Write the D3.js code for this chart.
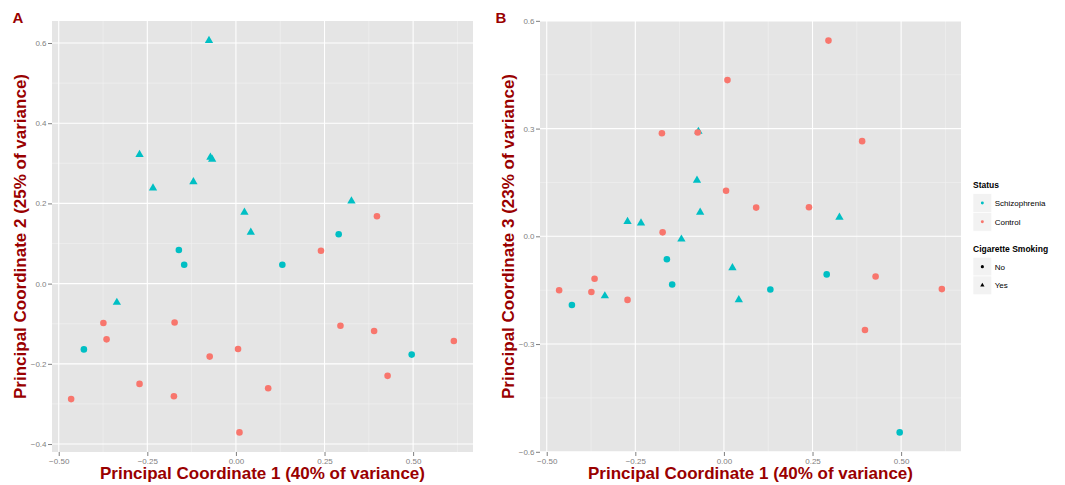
<!DOCTYPE html>
<html>
<head>
<meta charset="utf-8">
<script src="https://cdn.jsdelivr.net/npm/d3@7"></script>
<style>
  body { margin: 0; background: #fff; }
  svg { display: block; font-family: "Liberation Sans", Arial, Helvetica, sans-serif; }
</style>
</head>
<body>
<svg id="chart" width="1065" height="485"></svg>
<script>

// one entry per sample, same order in every array
const status = [
  "Schizophrenia", "Schizophrenia", "Schizophrenia", "Schizophrenia", "Schizophrenia",
  "Schizophrenia", "Schizophrenia", "Schizophrenia", "Schizophrenia", "Schizophrenia",
  "Schizophrenia", "Schizophrenia", "Schizophrenia", "Schizophrenia", "Schizophrenia",
  "Schizophrenia",
  "Control", "Control", "Control", "Control", "Control", "Control", "Control", "Control",
  "Control", "Control", "Control", "Control", "Control", "Control", "Control", "Control"
]
const smoking = [
  "Yes", "Yes", "Yes", "Yes", "Yes", "Yes", "Yes", "Yes", "Yes", "Yes",
  "No", "No", "No", "No", "No", "No",
  "No", "No", "No", "No", "No", "No", "No", "No",
  "No", "No", "No", "No", "No", "No", "No", "No"
]
const pc1 = [
  -0.076, -0.272, -0.234, -0.120, -0.072, -0.067, 0.024, 0.042, 0.326, -0.336,
  -0.161, -0.146, 0.131, 0.290, -0.429, 0.496,
  0.398, 0.240, -0.374, -0.365, -0.173, 0.006, -0.074, -0.272,
  -0.175, -0.465, 0.091, 0.010, 0.295, 0.390, 0.428, 0.615
]
const pc2 = [
  0.606, 0.322, 0.238, 0.254, 0.315, 0.310, 0.178, 0.128, 0.206, -0.047,
  0.084, 0.047, 0.047, 0.123, -0.164, -0.177,
  0.168, 0.082, -0.098, -0.139, -0.097, -0.163, -0.182, -0.250,
  -0.281, -0.288, -0.261, -0.371, -0.105, -0.118, -0.230, -0.143
]
const pc3 = [
  0.156, 0.041, 0.037, -0.008, 0.292, 0.067, -0.088, -0.177, 0.053, -0.166,
  -0.064, -0.134, -0.148, -0.106, -0.191, -0.546,
  -0.261, 0.081, -0.155, -0.118, 0.011, 0.127, 0.289, -0.177,
  0.287, -0.150, 0.080, 0.435, 0.545, 0.265, -0.112, -0.147
]

const statusLevels = ["Schizophrenia", "Control"]
const smokingLevels = ["No", "Yes"]

const xTicks = [-0.5, -0.25, 0, 0.25, 0.5]
const yTicksA = [-0.4, -0.2, 0, 0.2, 0.4, 0.6]
const yTicksB = [-0.6, -0.3, 0, 0.3, 0.6]

const xTitle = "Principal Coordinate 1 (40% of variance)"
const yTitleA = "Principal Coordinate 2 (25% of variance)"
const yTitleB = "Principal Coordinate 3 (23% of variance)"

const titleRed = "#990000"
const colour = d3.scaleOrdinal().domain(statusLevels).range(["#00BFC4", "#F8766D"])

// ggplot style: data range padded 5% each side
const expand = (v) => {
  const [a, b] = d3.extent(v)
  const p = (b - a) * 0.05
  return [a - p, b + p]
}

const minorTicks = (ticks, domain) => {
  const step = ticks[1] - ticks[0]
  const out = []
  for (let t = ticks[0] - step / 2; t <= domain[1]; t += step) {
    if (t >= domain[0]) out.push(t)
  }
  return out
}

const symbolPath = (shape, size) =>
  d3.symbol().type(shape === "Yes" ? d3.symbolTriangle : d3.symbolCircle).size(size)()

const scatterPanel = function () {

  let left, top, width, height
  let xs, ys, yTicks, yFmt, yTitle, tag, tagX, yTitleX

  const my = (selection) => {

    const xScale = d3.scaleLinear().domain(expand(xs)).range([left, left + width])
    const yScale = d3.scaleLinear().domain(expand(ys)).range([top + height, top])

    selection.append("rect")
      .attr("x", left).attr("y", top)
      .attr("width", width).attr("height", height)
      .attr("fill", "#E5E5E5")

    const grid = selection.append("g").attr("class", "grid")

    grid.selectAll(".xminor")
      .data(minorTicks(xTicks, xScale.domain()))
      .join("line")
      .attr("x1", d => xScale(d)).attr("x2", d => xScale(d))
      .attr("y1", top).attr("y2", top + height)
      .attr("stroke", "#F2F2F2").attr("stroke-width", 0.6)

    grid.selectAll(".yminor")
      .data(minorTicks(yTicks, yScale.domain()))
      .join("line")
      .attr("y1", d => yScale(d)).attr("y2", d => yScale(d))
      .attr("x1", left).attr("x2", left + width)
      .attr("stroke", "#F2F2F2").attr("stroke-width", 0.6)

    grid.append("g").selectAll("line")
      .data(xTicks)
      .join("line")
      .attr("x1", d => xScale(d)).attr("x2", d => xScale(d))
      .attr("y1", top).attr("y2", top + height)
      .attr("stroke", "#fff").attr("stroke-width", 1.1)

    grid.append("g").selectAll("line")
      .data(yTicks)
      .join("line")
      .attr("y1", d => yScale(d)).attr("y2", d => yScale(d))
      .attr("x1", left).attr("x2", left + width)
      .attr("stroke", "#fff").attr("stroke-width", 1.1)

    const points = pc1.map((d, i) => ({
      x: xScale(xs[i]),
      y: yScale(ys[i]),
      status: status[i],
      smoking: smoking[i]
    }))

    selection.append("g").selectAll("path")
      .data(points)
      .join("path")
      .attr("transform", d => `translate(${d.x},${d.y})`)
      .attr("d", d => symbolPath(d.smoking, d.smoking === "Yes" ? 30 : 34))
      .attr("fill", d => colour(d.status))

    selection.append("g")
      .attr("class", "x-axis")
      .attr("transform", `translate(0, ${top + height})`)
      .call(d3.axisBottom(xScale).tickValues(xTicks).tickFormat(d3.format(".2f")).tickSize(4).tickPadding(2))

    selection.append("g")
      .attr("class", "y-axis")
      .attr("transform", `translate(${left}, 0)`)
      .call(d3.axisLeft(yScale).tickValues(yTicks).tickFormat(yFmt).tickSize(4).tickPadding(1.5))

    selection.selectAll(".x-axis, .y-axis")
      .call(g => g.select(".domain").remove())
      .call(g => g.selectAll(".tick line").attr("stroke", "#7F7F7F"))
      .call(g => g.selectAll(".tick text")
        .attr("fill", "#7F7F7F")
        .style("font-size", "8px")
        .style("font-family", '"Liberation Sans", Arial, sans-serif'))

    selection.append("text")
      .attr("x", left + width / 2)
      .attr("y", 479)
      .attr("text-anchor", "middle")
      .attr("fill", titleRed)
      .style("font-size", "17px")
      .style("font-weight", "bold")
      .text(xTitle)

    selection.append("text")
      .attr("transform", `translate(${yTitleX}, ${top + height / 2}) rotate(-90)`)
      .attr("text-anchor", "middle")
      .attr("fill", titleRed)
      .style("font-size", "17px")
      .style("font-weight", "bold")
      .text(yTitle)

    selection.append("text")
      .attr("x", tagX)
      .attr("y", 22.5)
      .attr("fill", titleRed)
      .style("font-size", "15px")
      .style("font-weight", "bold")
      .text(tag)
  }

  my.box = function (l, t, w, h) { left = l; top = t; width = w; height = h; return my }
  my.xs = function (_) { return arguments.length ? (xs = _, my) : xs }
  my.ys = function (_) { return arguments.length ? (ys = _, my) : ys }
  my.yTicks = function (_) { return arguments.length ? (yTicks = _, my) : yTicks }
  my.yFmt = function (_) { return arguments.length ? (yFmt = _, my) : yFmt }
  my.yTitle = function (_) { return arguments.length ? (yTitle = _, my) : yTitle }
  my.yTitleX = function (_) { return arguments.length ? (yTitleX = _, my) : yTitleX }
  my.tag = function (_) { return arguments.length ? (tag = _, my) : tag }
  my.tagX = function (_) { return arguments.length ? (tagX = _, my) : tagX }

  return my
}

const svg = d3.select("#chart")

svg.append("g").call(
  scatterPanel().box(52, 21, 421, 431).xs(pc1).ys(pc2)
    .yTicks(yTicksA).yFmt(d3.format(".1f"))
    .yTitle(yTitleA).yTitleX(26).tag("A").tagX(12.5)
)

svg.append("g").call(
  scatterPanel().box(540, 21, 421, 431).xs(pc1).ys(pc3)
    .yTicks(yTicksB).yFmt(d3.format(".1f"))
    .yTitle(yTitleB).yTitleX(514).tag("B").tagX(495.5)
)

// legend
const legend = svg.append("g").attr("transform", "translate(973, 0)")
const keySize = 18.7

const legendBlock = (title, titleY, rowsY, levels, drawKey) => {
  legend.append("text")
    .attr("x", 0).attr("y", titleY)
    .style("font-size", "8.5px").style("font-weight", "bold")
    .text(title)

  const rows = legend.append("g").selectAll("g")
    .data(levels)
    .join("g")
    .attr("transform", (d, i) => `translate(0, ${rowsY + i * keySize})`)

  rows.append("rect")
    .attr("width", keySize).attr("height", keySize)
    .attr("fill", "#F2F2F2").attr("stroke", "#fff").attr("stroke-width", 0.6)

  rows.append("path")
    .attr("transform", `translate(${keySize / 2}, ${keySize / 2})`)
    .call(drawKey)

  rows.append("text")
    .attr("x", keySize + 3).attr("y", keySize / 2 + 3)
    .style("font-size", "8px")
    .text(d => d)
}

legendBlock("Status", 187.5, 193.7, statusLevels, p => p
  .attr("d", symbolPath("No", 7))
  .attr("fill", d => colour(d)))

legendBlock("Cigarette Smoking", 251.5, 257.3, smokingLevels, p => p
  .attr("d", d => symbolPath(d, 8))
  .attr("fill", "#000"))

</script>
</body>
</html>
